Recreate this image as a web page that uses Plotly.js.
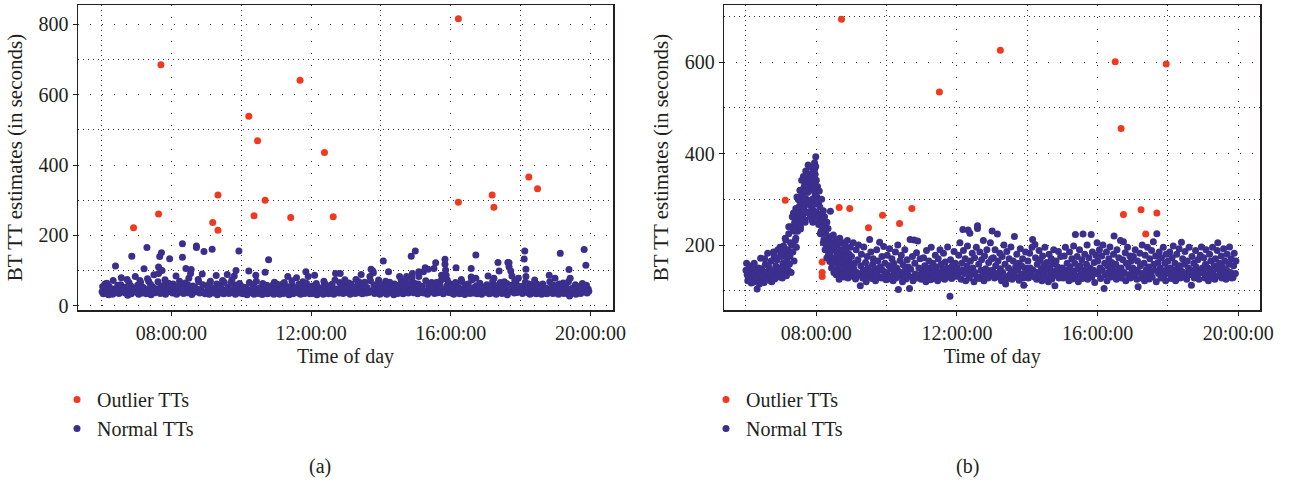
<!DOCTYPE html>
<html>
<head>
<meta charset="utf-8">
<script src="https://cdn.plot.ly/plotly-3.0.1.min.js"></script>
<style>html,body{margin:0;padding:0;background:#fff;}#chart{width:1289px;height:486px;}</style>
</head>
<body>
<div id="chart"></div>
<script>
// Time of day is stored as minutes after midnight; TT values in seconds.
const tickMinutes = [480, 720, 960, 1200];
const tickLabels = ['08:00:00', '12:00:00', '16:00:00', '20:00:00'];
const seriesNames = ['Outlier TTs', 'Normal TTs'];
const panelLabels = ['(a)', '(b)'];

// ---------- Panel (a) ----------
const outlierA_min = [462,415,458,560,551,560,613,628,622,641,685,701,743,758,973,973,1031,1034,1094,1109];
const outlierA_tt  = [685,222,261,315,237,215,539,469,256,300,251,641,436,253,816,294,315,280,366,333];

const normalA_min = [
 361,363,365,366,368,370,372,373,375,377,379,381,383,384,386,388,390,392,394,396,398,401,403,405,407,409,411,412,414,416,418,
 421,423,424,426,428,430,431,433,435,437,438,440,441,443,445,447,449,450,452,454,456,458,458,460,461,463,464,466,468,470,472,473,475,477,478,
 481,482,484,486,488,489,491,493,495,497,499,499,501,503,505,506,508,510,512,514,515,517,519,521,523,523,525,527,529,531,533,535,536,538,
 541,543,545,546,548,550,552,554,556,557,559,561,563,565,567,568,570,572,574,576,577,579,581,583,585,587,588,590,591,593,595,596,598,
 601,603,604,606,608,610,612,613,615,617,619,621,622,624,625,627,629,631,633,634,636,638,640,641,643,645,647,649,651,652,654,656,658,
 661,662,664,666,668,670,671,673,675,677,679,680,682,684,686,688,689,691,693,695,697,698,700,702,704,706,707,709,711,713,715,716,718,
 721,723,725,726,728,730,732,733,735,737,739,741,743,744,746,748,750,752,753,755,757,759,761,762,764,766,768,770,771,773,775,777,779,
 781,783,785,787,788,790,792,794,796,797,799,801,803,805,806,808,810,812,814,815,817,819,821,823,824,826,827,829,831,833,835,836,838,
 841,842,844,846,848,850,851,853,854,856,858,860,862,863,865,867,869,871,872,874,876,878,880,882,884,885,887,889,891,892,894,896,897,899,899,
 901,903,905,905,907,909,911,913,914,916,918,920,921,923,925,927,929,931,932,934,936,938,940,942,944,945,947,949,950,950,951,952,954,956,958,
 961,963,965,967,969,969,971,973,975,976,978,980,982,984,986,987,989,991,993,995,995,997,999,1000,1002,1003,1003,1005,1007,1009,1011,1013,1015,1017,1019,
 1021,1023,1024,1026,1028,1030,1031,1033,1034,1036,1038,1040,1041,1043,1044,1046,1048,1050,1052,1053,1055,1057,1058,1060,1060,1062,1063,1065,1067,1069,1071,1072,1074,1076,1078,
 1081,1083,1085,1086,1087,1089,1089,1090,1092,1094,1096,1098,1100,1101,1103,1105,1107,1108,1110,1112,1114,1116,1117,1119,1121,1123,1125,1127,1129,1131,1133,1135,1137,1139,
 1141,1143,1145,1146,1148,1150,1152,1154,1155,1157,1159,1161,1163,1164,1165,1167,1169,1171,1173,1175,1177,1179,1181,1183,1185,1187,1189,1190,1192,1194,1196,1197,
 362,369,374,380,387,393,399,404,410,417,
 422,427,432,439,444,451,457,462,469,476,
 483,487,494,498,504,509,513,520,526,534,
 542,547,553,558,564,571,578,584,589,597,
 602,607,614,620,626,632,637,644,650,657,
 663,669,674,681,687,694,699,705,712,719,
 722,729,736,742,749,756,763,769,776,778,
 782,789,795,802,809,816,822,828,834,839,
 843,849,855,861,868,875,881,888,893,898,
 904,910,917,922,928,935,941,946,953,957,
 962,968,974,979,985,990,996,1004,1010,1016,
 1022,1027,1032,1039,1045,1051,1056,1064,1070,1077,
 1082,1088,1093,1099,1104,1111,1118,1124,1130,1136,
 1142,1147,1153,1158,1162,1168,1174,1180,1186,1193
];
const normalA_tt = [
 40,34,47,62,36,42,31,55,44,38,33,48,37,113,41,58,35,45,80,39,52,36,43,30,66,47,34,141,39,44,83,
 38,45,33,72,41,36,50,105,42,34,166,46,70,39,31,55,43,88,37,48,40,110,92,140,35,151,100,44,58,33,47,39,64,134,42,
 44,36,52,40,85,33,47,38,60,42,176,138,35,49,106,41,37,78,45,103,32,56,43,39,170,166,47,68,36,44,90,40,154,34,
 38,46,33,64,41,161,36,50,44,86,31,40,55,37,47,72,34,43,39,89,52,35,45,66,38,42,85,33,100,48,40,156,36,
 40,34,47,37,52,31,43,99,39,45,36,60,33,48,87,41,35,44,38,50,32,46,37,95,42,34,131,49,36,40,58,33,45,
 36,61,44,33,48,39,62,35,42,50,37,83,31,45,40,56,34,43,38,80,47,36,52,33,44,68,39,35,97,46,83,41,34,
 42,35,47,87,38,31,53,44,36,49,40,33,64,45,38,57,34,42,50,37,46,33,73,92,39,44,36,92,52,41,35,60,43,
 38,44,65,33,47,36,41,52,35,75,43,60,37,46,89,34,49,67,40,36,45,38,83,104,42,99,94,35,48,39,44,73,33,
 45,36,127,40,70,33,48,97,42,37,52,44,31,62,39,47,35,43,83,38,56,34,45,72,83,40,36,49,41,141,92,37,65,156,44,
 40,34,97,83,47,38,55,97,36,108,42,33,104,48,39,66,44,106,35,122,51,37,43,70,87,40,34,46,132,118,102,87,73,38,45,
 36,44,33,50,108,62,38,46,34,41,75,37,48,32,45,60,39,43,35,106,82,47,36,52,40,144,78,34,44,38,57,33,46,39,42,
 38,45,85,34,50,41,36,60,78,44,33,47,123,99,39,52,35,43,68,37,46,31,123,122,111,40,99,85,48,36,44,65,38,78,42,
 40,35,48,133,156,104,83,44,37,62,33,46,39,55,36,42,34,61,47,38,58,33,44,36,50,40,34,45,87,39,52,35,43,78,
 36,44,33,62,149,40,47,35,56,38,42,34,103,28,78,45,37,52,40,33,46,38,43,35,58,39,160,44,115,36,48,41,
 55,64,50,72,48,60,53,75,57,49,
 58,66,52,77,61,49,68,56,74,51,
 62,55,70,49,65,58,92,53,75,60,
 57,70,48,62,55,66,51,74,59,63,
 54,48,66,57,70,51,63,58,49,67,
 58,50,66,54,71,49,61,57,64,52,
 56,63,50,70,55,61,48,66,53,74,
 54,61,49,68,57,52,71,58,63,50,
 60,53,67,50,58,72,55,62,78,57,
 62,55,71,58,50,66,60,77,56,64,
 58,66,51,69,55,62,73,57,64,52,
 60,54,70,57,66,51,63,58,72,55,
 55,67,51,60,73,56,62,50,68,58,
 57,52,65,54,68,49,60,55,63,58
];

// ---------- Panel (b) ----------
const outlierB_min = [523,427,519,537,490,490,490,569,593,622,643,690,794,990,1077,1000,1004,1034,1061,1042];
const outlierB_tt  = [694,298,282,280,163,140,131,238,265,247,280,535,626,601,596,455,267,277,270,224];

const normalB_min = [
 361,362,363,365,366,368,369,370,372,373,375,376,378,379,381,382,384,385,387,388,390,391,393,394,396,397,399,400,402,403,405,406,408,409,411,412,414,415,417,418,
 420,421,422,423,424,425,426,427,428,429,430,431,432,433,434,435,436,437,438,439,440,441,442,443,444,445,446,447,448,449,450,451,452,453,454,455,456,457,458,459,460,461,462,463,464,465,466,467,468,469,470,471,472,473,474,475,476,477,478,479,
 446,448,451,453,455,457,459,461,463,465,467,469,471,473,475,477,478,479,476,474,
 480,481,481,482,483,484,485,486,486,487,488,489,490,491,492,493,494,495,496,497,498,499,500,501,502,503,504,505,506,507,508,509,510,511,512,513,514,515,516,517,518,519,520,521,522,523,524,525,526,527,528,529,530,531,532,533,534,535,536,537,538,539,
 540,541,543,544,545,547,548,549,551,552,553,555,556,557,559,560,561,563,564,565,567,568,569,571,572,573,575,576,577,579,580,581,583,584,585,587,588,589,591,592,593,595,596,597,599,
 600,601,603,604,605,607,608,609,611,612,613,615,616,617,619,620,621,623,624,625,627,628,629,631,632,633,635,636,637,639,640,641,643,644,645,647,648,649,651,652,653,655,656,657,659,
 660,661,663,664,665,667,668,669,671,672,673,675,676,677,679,680,681,683,684,685,687,688,689,691,692,693,695,696,697,699,700,701,703,704,705,707,708,709,711,712,713,715,716,717,719,
 720,721,723,724,725,727,728,729,730,731,733,734,735,737,738,739,739,741,742,743,745,746,747,749,750,751,753,754,755,755,757,758,759,761,762,763,765,766,767,769,770,771,773,774,775,777,778,779,
 780,781,782,784,785,786,788,789,790,792,793,794,796,797,798,800,801,802,803,805,806,808,809,810,812,813,814,816,817,818,820,821,822,824,825,826,828,829,830,832,833,834,836,837,838,
 840,841,842,844,845,846,848,849,850,852,853,854,856,857,858,860,861,862,864,865,866,868,869,870,872,873,874,876,877,878,880,881,882,884,885,886,887,889,890,892,893,894,896,897,898,
 900,901,903,904,905,907,908,909,911,912,913,915,916,917,919,920,921,922,923,925,926,927,929,930,931,933,934,935,937,938,939,941,942,943,945,946,947,949,950,951,953,954,955,957,958,959,
 960,961,963,964,965,967,968,969,971,972,973,975,976,977,979,980,981,983,984,985,987,988,989,991,992,993,995,996,997,999,1000,1001,1003,1004,1005,1007,1008,1009,1011,1012,1013,1015,1016,1017,1019,
 1020,1021,1023,1024,1025,1027,1028,1029,1031,1032,1033,1035,1036,1037,1039,1040,1041,1043,1044,1045,1047,1048,1049,1051,1052,1053,1055,1056,1057,1059,1060,1061,1063,1064,1065,1067,1068,1069,1071,1072,1073,1075,1076,1077,1079,
 1080,1081,1083,1084,1085,1087,1088,1089,1091,1092,1093,1095,1096,1097,1099,1100,1101,1103,1104,1105,1107,1108,1109,1111,1112,1113,1115,1116,1117,1119,1120,1121,1123,1124,1125,1127,1128,1129,1131,1132,1133,1135,1136,1137,1139,
 1140,1141,1143,1144,1145,1147,1148,1149,1151,1152,1153,1155,1156,1157,1159,1160,1161,1163,1164,1165,1167,1168,1169,1171,1172,1173,1175,1176,1177,1179,1180,1181,1183,1184,1185,1187,1188,1189,1191,1192,1193,1195,1196,
 360,364,367,371,374,377,380,383,386,389,392,395,398,401,404,407,410,413,416,419,
 421,424,427,430,433,436,438,441,443,445,447,449,451,453,455,457,459,461,463,465,467,469,471,473,475,477,479,482,484,487,
 489,492,495,498,501,504,507,510,513,516,519,522,525,528,531,534,537
];
const normalB_tt = [
 160,135,122,148,128,140,117,155,132,125,143,138,120,104,150,130,136,171,124,145,133,118,158,140,127,182,137,149,122,165,131,143,176,126,154,139,189,147,130,195,
 142,175,128,160,198,136,182,150,211,133,168,190,145,225,158,176,240,140,200,262,185,232,165,250,210,280,195,262,230,300,245,275,320,258,290,342,268,310,350,282,330,255,362,300,340,272,375,318,290,355,262,370,330,300,358,276,345,365,310,393,
 240,270,298,235,310,285,325,300,345,315,290,338,352,268,300,380,355,372,330,250,
 342,305,270,328,260,290,318,248,283,265,230,300,255,240,275,212,262,245,226,195,250,208,236,180,218,164,274,195,150,205,172,222,140,190,160,212,135,183,200,148,170,125,215,158,190,138,176,205,145,168,130,198,155,185,142,210,128,165,180,150,195,136,
 175,132,205,148,160,126,190,140,168,200,135,111,155,180,128,145,196,138,162,120,175,150,132,212,143,185,127,158,170,136,149,122,190,140,165,130,206,152,128,175,145,197,133,160,124,
 140,178,126,155,192,133,148,170,122,160,137,185,128,150,200,103,142,166,131,178,120,157,138,190,145,126,168,135,152,105,212,147,130,175,122,211,160,137,183,128,209,150,134,170,125,
 145,128,172,136,155,120,188,142,130,165,150,124,195,138,160,127,146,178,133,152,122,170,140,190,128,158,135,147,182,125,163,138,150,196,130,142,88,168,127,155,140,186,132,160,145,
 150,132,178,140,205,125,160,145,234,188,138,170,122,155,198,233,143,128,226,165,136,182,150,120,172,140,195,130,242,236,158,127,185,145,168,133,210,122,176,148,138,190,128,162,144,205,135,170,
 231,145,172,128,190,155,138,224,165,130,182,148,122,175,140,200,132,158,115,186,127,150,170,135,196,142,125,165,138,219,152,130,180,146,160,123,192,137,155,170,128,112,150,185,140,
 140,165,128,182,150,136,195,212,145,130,201,172,125,158,140,188,132,166,148,122,176,138,155,195,130,162,145,120,180,150,135,170,126,158,190,142,111,165,134,152,186,128,145,175,138,
 150,128,176,140,195,133,160,145,122,185,152,138,170,126,198,143,160,223,132,175,148,120,190,155,136,168,127,224,145,180,135,158,200,125,172,140,150,223,130,185,145,162,118,178,138,205,
 165,138,190,150,127,176,145,200,105,160,135,185,122,155,170,142,196,130,162,148,180,220,136,158,125,190,145,172,132,210,150,128,168,207,140,183,122,160,195,135,152,176,128,165,142,
 150,175,132,190,145,125,165,109,140,182,155,128,200,138,160,122,178,146,135,195,152,126,170,140,188,130,207,158,145,176,120,225,162,138,185,150,128,172,143,195,133,160,122,180,148,
 165,138,185,150,127,172,145,198,133,160,122,180,148,136,192,155,128,206,142,170,130,158,186,138,125,165,150,195,135,145,112,175,140,160,128,188,152,132,168,145,125,178,140,196,150,
 140,172,128,158,190,135,150,122,180,145,165,130,195,138,155,125,170,148,188,205,133,160,142,176,128,152,192,138,165,125,145,180,132,158,196,140,170,128,129,155,182,138,165,
 145,128,152,118,160,126,142,115,148,132,170,124,156,138,120,185,145,168,150,178,
 190,150,215,175,240,205,185,270,230,215,305,250,285,240,320,265,300,250,330,290,270,340,285,255,320,290,265,300,245,225,
 228,205,190,172,215,185,160,198,142,178,205,165,150,188,172,140,160
];

// ---------- Styling ----------
const W = 1289, H = 486;
const RED = '#f0391f', BLUE = '#3b2e8c', INK = '#231f20', GRID = '#333333';
const serif = 'Liberation Serif, Times New Roman, serif';
const fnt = {family: serif, size: 20, color: INK};

const traces = [
  {x: outlierA_min, y: outlierA_tt, name: seriesNames[0], type: 'scatter', mode: 'markers',
   marker: {color: RED, size: 7}, xaxis: 'x', yaxis: 'y', legend: 'legend'},
  {x: normalA_min, y: normalA_tt, name: seriesNames[1], type: 'scatter', mode: 'markers',
   marker: {color: BLUE, size: 7}, xaxis: 'x', yaxis: 'y', legend: 'legend'},
  {x: outlierB_min, y: outlierB_tt, name: seriesNames[0], type: 'scatter', mode: 'markers',
   marker: {color: RED, size: 7}, xaxis: 'x2', yaxis: 'y2', legend: 'legend2'},
  {x: normalB_min, y: normalB_tt, name: seriesNames[1], type: 'scatter', mode: 'markers',
   marker: {color: BLUE, size: 7}, xaxis: 'x2', yaxis: 'y2', legend: 'legend2'}
];

function xAxis(domain, range, anchor) {
  return {
    domain: domain, range: range, anchor: anchor,
    tickmode: 'array', tickvals: tickMinutes, ticktext: tickLabels,
    ticks: 'outside', ticklen: 4, tickwidth: 1, tickcolor: INK,
    showline: true, mirror: true, linecolor: INK, linewidth: 1.5,
    showgrid: true, gridcolor: GRID, gridwidth: 1, griddash: '1px,11px', zeroline: false,
    minor: {tickmode: 'linear', tick0: 360, dtick: 240, showgrid: true, gridcolor: GRID, gridwidth: 1, griddash: '1px,4px', ticks: ''},
    tickfont: fnt,
    title: {text: 'Time of day', font: fnt, standoff: 6}
  };
}
function yAxis(domain, range, anchor) {
  return {
    domain: domain, range: range, anchor: anchor,
    tickmode: 'linear', tick0: 0, dtick: 200,
    ticks: 'outside', ticklen: 4, tickwidth: 1, tickcolor: INK,
    showline: true, mirror: true, linecolor: INK, linewidth: 1.5,
    showgrid: true, gridcolor: GRID, gridwidth: 1, griddash: '1px,11px', zeroline: false,
    minor: {tickmode: 'linear', tick0: 100, dtick: 200, showgrid: true, gridcolor: GRID, gridwidth: 1, griddash: '1px,4px', ticks: ''},
    tickfont: fnt,
    title: {text: 'BT TT estimates (in seconds)', font: {family: serif, size: 21, color: INK}, standoff: 10}
  };
}

const yDom = [1 - 310 / H, 1 - 5 / H];
const layout = {
  width: W, height: H,
  margin: {l: 0, r: 0, t: 0, b: 0},
  paper_bgcolor: '#ffffff', plot_bgcolor: '#ffffff',
  font: fnt,
  showlegend: true,
  xaxis: xAxis([78 / W, 613 / W], [319.6, 1238.6], 'y'),
  yaxis: yAxis(yDom, [-12, 855], 'x'),
  xaxis2: xAxis([724.3 / W, 1260 / W], [323, 1237], 'y2'),
  yaxis2: yAxis(yDom, [58, 725], 'x2'),
  legend: {x: 57 / W, y: 1 - 380 / H, xanchor: 'left', yanchor: 'top', font: fnt, bgcolor: 'rgba(0,0,0,0)'},
  legend2: {x: 706 / W, y: 1 - 380 / H, xanchor: 'left', yanchor: 'top', font: fnt, bgcolor: 'rgba(0,0,0,0)'},
  annotations: [
    {text: panelLabels[0], xref: 'paper', yref: 'paper', x: 320 / W, y: 1 - 466 / H, xanchor: 'center', yanchor: 'middle', showarrow: false, font: fnt},
    {text: panelLabels[1], xref: 'paper', yref: 'paper', x: 967 / W, y: 1 - 466 / H, xanchor: 'center', yanchor: 'middle', showarrow: false, font: fnt}
  ]
};

Plotly.newPlot('chart', traces, layout, {displayModeBar: false, staticPlot: true});
</script>
</body>
</html>
